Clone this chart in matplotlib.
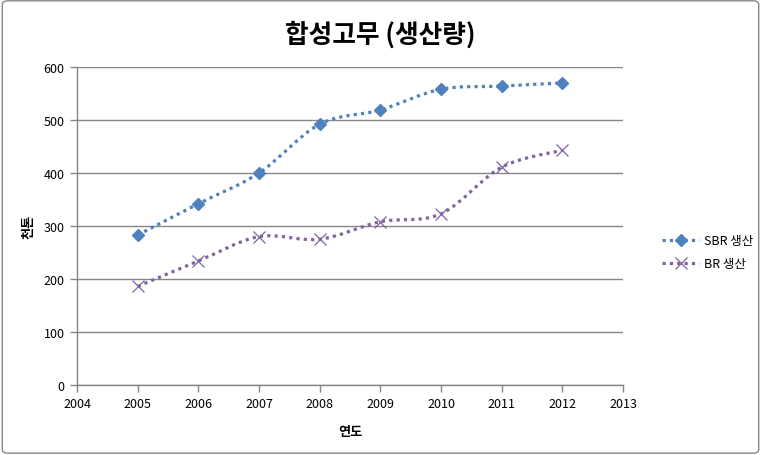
import numpy as np
import matplotlib
matplotlib.use("Agg")
import matplotlib.pyplot as plt
from matplotlib.path import Path
from matplotlib.patches import PathPatch, FancyBboxPatch
from matplotlib.lines import Line2D

plt.rcParams['font.family'] = ['Noto Sans CJK KR', 'DejaVu Sans']

years = [2005, 2006, 2007, 2008, 2009, 2010, 2011, 2012]
sbr = [283, 342, 400, 492, 519, 558, 564, 570]
br = [186, 234, 280, 275, 308, 323, 411, 443]

SBR_COLOR = '#4F81BD'
BR_COLOR = '#8064A2'


def smooth_path(xs, ys):
    """Catmull-Rom style bezier path through the points (like Excel smoothing)."""
    pts = np.column_stack([xs, ys]).astype(float)
    verts = [pts[0]]
    codes = [Path.MOVETO]
    n = len(pts)
    for i in range(n - 1):
        p0 = pts[i - 1] if i > 0 else pts[i]
        p1, p2 = pts[i], pts[i + 1]
        p3 = pts[i + 2] if i + 2 < n else pts[i + 1]
        c1 = p1 + (p2 - p0) / 6.0
        c2 = p2 - (p3 - p1) / 6.0
        verts += [c1, c2, p2]
        codes += [Path.CURVE4] * 3
    return Path(verts, codes)


fig = plt.figure(figsize=(7.61, 4.56), dpi=100)
fig.patches.append(FancyBboxPatch((0.003, 0.004), 0.994, 0.992,
                                  boxstyle='round,pad=0,rounding_size=0.008',
                                  transform=fig.transFigure, fill=False,
                                  edgecolor='#868686', linewidth=1.0))

ax = fig.add_axes([0.1012, 0.1535, 0.7175, 0.6974])

dots = (0, (1, 1.3))
for ys, color, marker, ms, mew in [(sbr, SBR_COLOR, 'D', 6, 1.0),
                                   (br, BR_COLOR, 'x', 8, 0.9)]:
    patch = PathPatch(smooth_path(years, ys), fill=False, edgecolor=color,
                      linewidth=2.3, linestyle=dots, capstyle='butt',
                      zorder=3)
    ax.add_patch(patch)
    ax.plot(years, ys, linestyle='none', marker=marker, markersize=ms,
            color=color, markeredgewidth=mew, zorder=4)

ax.set_xlim(2004, 2013)
ax.set_ylim(0, 600)
ax.set_xticks(range(2004, 2014))
ax.set_yticks(range(0, 601, 100))
ax.yaxis.grid(True, color='#868686', linewidth=1.0)
ax.set_axisbelow(True)
for s in ['top', 'right']:
    ax.spines[s].set_visible(False)
for s in ['left', 'bottom']:
    ax.spines[s].set_color('#868686')
    ax.spines[s].set_linewidth(1.0)
ax.tick_params(axis='both', colors='#868686', labelcolor='black',
               labelsize=9, length=5, width=1.0, direction='out')
ax.tick_params(axis='y', pad=4)

fig.suptitle('합성고무 (생산량)', x=0.5, y=0.923, va='center',
             fontsize=18.5, fontweight='bold')
ax.set_xlabel('연도', fontsize=9.5, fontweight='bold', labelpad=10)
ax.set_ylabel('천톤', fontsize=9.5, fontweight='bold', labelpad=6)

handles = [Line2D([], [], color=SBR_COLOR, linewidth=2.3, linestyle=dots,
                  marker='D', markersize=6, label='SBR 생산'),
           Line2D([], [], color=BR_COLOR, linewidth=2.3, linestyle=dots,
                  marker='x', markersize=8, markeredgewidth=0.9, label='BR 생산')]
fig.legend(handles=handles, loc='center left', bbox_to_anchor=(0.855, 0.445),
           frameon=False, fontsize=9, handlelength=3.0, labelspacing=0.8,
           handletextpad=0.4)

fig.savefig('out.png', dpi=100)
